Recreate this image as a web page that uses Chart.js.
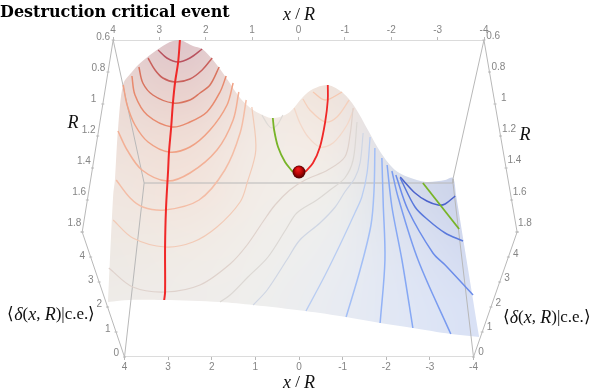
<!DOCTYPE html>
<html>
<head>
<meta charset="utf-8">
<title>Destruction critical event</title>
<script src="https://cdn.jsdelivr.net/npm/chart.js@4"></script>
<style>
  html, body { margin: 0; padding: 0; background: #fff; }
  #wrap { position: relative; width: 598px; height: 389px; }
</style>
</head>
<body>
<div id="wrap"><canvas id="chart"></canvas></div>
<script>
// All curves are read off the picture, in view-plane units:
// first value on the front x/R axis, second is height above the front edge.
var xTicks = [4, 3, 2, 1, 0, -1, -2, -3, -4];
var rTicks = ["0.6", "0.8", "1", "1.2", "1.4", "1.6", "1.8"];
var deltaTicks = ["0", "1", "2", "3", "4"];

// surface outline
var surfaceUpper = [[4.38,55],[4.26,162],[4.22,177],[4.15,227],[4.03,273],[3.83,285],[3.64,294],[3.26,307],[2.96,315],[2.73,317],[2.43,311],[2.22,308],[1.97,297],[1.65,278],[1.35,259],[1.05,247],[0.73,240],[0.62,239],[0.44,240],[0.21,245],[-0.09,260],[-0.32,268],[-0.66,272],[-1.01,264],[-1.28,250],[-1.58,227],[-1.88,204],[-2.20,187],[-2.50,180],[-2.91,175],[-3.35,177],[-3.53,179],[-3.60,162],[-4.13,20]];
var surfaceLower = [[4.38,55],[3.87,57],[3.12,57],[1.81,55],[1.05,52],[-0.14,46],[-1.08,40],[-1.86,34],[-2.61,29],[-3.48,23],[-4.13,20]];

// box edges
var boxTop = [[4.26,317],[-4.24,317]];
var boxBottom = [[4,0],[-4,0]];
var boxLeft = [[4.26,317],[4.97,125],[4,0]];
var boxRight = [[-4.24,317],[-5.0,125],[-4,0]];
var boxBackLeft = [[4.26,317],[3.55,174],[4,0]];
var boxBackRight = [[-4.24,317],[-3.53,178],[-3.53,174],[-4,0]];
var boxBack = [[3.55,174],[-3.53,174]];

// level curves, left hill
var c1 = [[3.23,307],[3.03,299],[2.77,295],[2.50,299],[2.22,308]];
var c2 = [[3.46,299],[3.30,287],[3.12,279],[2.84,275],[2.50,278],[2.22,287],[1.99,299]];
var c3 = [[3.67,290],[3.58,274],[3.35,262],[2.89,254],[2.50,257],[2.27,264],[2.04,272],[1.83,290]];
var c4 = [[3.83,281],[3.76,262],[3.48,242],[2.91,230],[2.50,235],[2.11,245],[1.81,265],[1.67,281]];
var c5 = [[4.03,272],[3.94,252],[3.76,232],[3.46,215],[2.98,205],[2.50,210],[2.04,227],[1.65,252],[1.51,274]];
var c6 = [[4.15,226],[3.94,207],[3.60,187],[3.03,176],[2.50,184],[1.88,207],[1.51,237],[1.38,265]];
var c7 = [[4.19,177],[3.87,159],[3.58,150],[3.07,147],[2.29,157],[1.70,187],[1.35,224],[1.21,257]];
var c8 = [[4.26,137],[3.81,119],[3.07,110],[2.43,115],[1.88,130],[1.35,155],[1.19,174],[0.99,207],[1.08,250]];
var c9 = [[4.36,89],[3.81,70],[3.07,65],[2.27,72],[1.58,93],[1.19,112],[0.83,135],[0.55,152],[0.21,167],[-0.14,177],[-0.66,187],[-1.05,200],[-1.17,222],[-1.24,249]];
var c10 = [[1.81,55],[1.58,62],[1.17,80],[0.71,100],[0.28,129],[0.05,144],[-0.41,157],[-0.71,167],[-1.05,179],[-1.24,197],[-1.33,235]];
var c11 = [[1.05,52],[0.73,67],[0.28,97],[-0.02,117],[-0.48,134],[-0.83,150],[-1.05,165],[-1.28,179],[-1.40,194],[-1.47,224]];
var c12 = [[-0.16,46],[-0.60,82],[-0.96,114],[-1.28,144],[-1.44,160],[-1.56,184],[-1.63,220]];
// right side
var l1 = [[-1.74,209],[-1.72,167],[-1.65,132],[-1.40,87],[-1.08,40]];
var l2 = [[-1.90,199],[-1.93,154],[-1.97,97],[-1.86,34]];
var l3 = [[-2.02,192],[-2.13,150],[-2.36,97],[-2.61,29]];
var l4 = [[-2.13,186],[-2.27,160],[-2.73,97],[-3.48,23]];
var l5 = [[-2.22,182],[-2.50,147],[-3.07,104],[-3.35,92],[-3.99,62]];
var l6 = [[-2.32,179],[-2.66,150],[-2.96,137],[-3.35,124],[-3.76,116]];
var l7 = [[-2.32,180],[-2.66,164],[-2.93,156],[-3.19,152],[-3.35,153],[-3.58,161]];
// central hill
var h1 = [[-0.32,265],[-0.60,257],[-0.99,265]];
var h2 = [[-0.09,258],[-0.25,247],[-0.60,235],[-0.87,240],[-1.15,257]];
var h3 = [[0.11,249],[-0.02,234],[-0.21,220],[-0.48,210],[-0.78,214],[-1.10,232],[-1.26,249]];
var saddle = [[0.85,242],[0.71,232],[0.62,229],[0.50,232],[0.37,242]];

// highlighted paths
var redRidgeLeft = [[2.73,317],[2.77,295],[2.84,275],[2.89,254],[2.93,230],[2.98,205],[3.00,187],[3.05,147],[3.07,110],[3.07,65],[3.09,57]];
var redRidgeCentre = [[-0.66,272],[-0.66,257],[-0.60,235],[-0.48,210],[-0.32,194],[-0.14,185]];
var greenSaddle = [[0.60,239],[0.57,227],[0.48,210],[0.32,195],[0.14,185]];
var greenRight = [[-2.84,174],[-3.67,128]];
var ball = [[0,185]];

// surface tint samples, left to right and top to bottom
var surfaceTones = [
  ["#e4d0d2","#e2cdd0","#dcc2c9","#e8dcdc","#ecdfda","#e0e0ea","#c8cfe8","#c8cfe8"],
  ["#e9d8d4","#e9d8d4","#e7cdcb","#f0e6e0","#efe2da","#dcdfea","#c8cfe8","#c8cfe8"],
  ["#eee0da","#eee0da","#f0ddd5","#f2ebe6","#f2e9e3","#d5dbea","#c5cde8","#c5cde8"],
  ["#f0e6e0","#f0e6e0","#f3e4dc","#f2ede8","#efeeeb","#d5dcec","#c9d0ea","#c9d0ea"],
  ["#eee9e4","#eee9e4","#f1ebe5","#f0eeeb","#ebedf0","#dde3f2","#d0d8f0","#d0d8f0"],
  ["#eeebe8","#eeebe8","#efecea","#eeeeed","#e8ebf2","#dfe6f5","#d8e0f5","#d8e0f5"],
  ["#eeebe8","#eeebe8","#efecea","#eeeeed","#e8ebf2","#dfe6f5","#d8e0f5","#d8e0f5"]
];

var frameColor = "#b8b8b8";
var tickColor = "#858585";

function toPoints(list) {
  return list.map(function (p) { return { x: p[0], y: p[1] }; });
}

// smooth tint made by scaling up the little sample grid
function surfacePattern() {
  var small = document.createElement("canvas");
  small.width = surfaceTones[0].length;
  small.height = surfaceTones.length;
  var sctx = small.getContext("2d");
  surfaceTones.forEach(function (row, j) {
    row.forEach(function (tone, i) {
      sctx.fillStyle = tone;
      sctx.fillRect(i, j, 1, 1);
    });
  });
  var big = document.createElement("canvas");
  big.width = 598;
  big.height = 389;
  var bctx = big.getContext("2d");
  bctx.imageSmoothingEnabled = true;
  bctx.imageSmoothingQuality = "high";
  bctx.drawImage(small, 0, 0, 598, 389);
  return bctx.createPattern(big, "no-repeat");
}

function curve(list, color, width, order) {
  return {
    data: toPoints(list),
    showLine: true,
    borderColor: color,
    borderWidth: width,
    tension: 0.33,
    pointRadius: 0,
    fill: false,
    order: order
  };
}

function frame(list) {
  var d = curve(list, frameColor, 1, 5);
  d.tension = 0;
  return d;
}

var datasets = [
  {
    data: toPoints(surfaceUpper),
    showLine: true,
    borderWidth: 0,
    borderColor: "rgba(0,0,0,0)",
    backgroundColor: surfacePattern(),
    pointRadius: 0,
    tension: 0.3,
    fill: "+1",
    order: 10
  },
  {
    data: toPoints(surfaceLower),
    showLine: true,
    borderWidth: 0,
    borderColor: "rgba(0,0,0,0)",
    pointRadius: 0,
    tension: 0.3,
    fill: false,
    order: 10
  },
  frame(boxTop), frame(boxBottom), frame(boxLeft), frame(boxRight),
  frame(boxBackLeft), frame(boxBackRight), frame(boxBack),
  curve(c1, "#b9525f", 1.5, 3),
  curve(c2, "#c9605c", 1.5, 3),
  curve(c3, "#d9745f", 1.5, 3),
  curve(c4, "#e88a6e", 1.5, 3),
  curve(c5, "#f0a184", 1.5, 3),
  curve(c6, "#f3b096", 1.5, 3),
  curve(c7, "#f4bda6", 1.5, 3),
  curve(c8, "#f2cab6", 1.2, 3),
  curve(c9, "#dfd2cc", 1.2, 3),
  curve(c10, "#dcd8d4", 1.2, 3),
  curve(c11, "#cfd6e4", 1.2, 3),
  curve(c12, "#b9cdf2", 1.3, 3),
  curve(l1, "#a3bff6", 1.5, 3),
  curve(l2, "#92b2f6", 1.5, 3),
  curve(l3, "#86a8f4", 1.5, 3),
  curve(l4, "#7a9cf0", 1.5, 3),
  curve(l5, "#6b8cea", 1.5, 3),
  curve(l6, "#5a79dc", 1.5, 3),
  curve(l7, "#4c63cc", 1.5, 3),
  curve(h1, "#f6c8b0", 1.3, 3),
  curve(h2, "#f5d0bc", 1.3, 3),
  curve(h3, "#f3d8c9", 1.3, 3),
  curve(saddle, "#dedad6", 1.2, 3),
  curve(redRidgeLeft, "#f02828", 2, 2),
  curve(redRidgeCentre, "#f02828", 1.8, 2),
  curve(greenSaddle, "#78b428", 1.8, 2),
  curve(greenRight, "#78b428", 1.8, 2),
  {
    data: toPoints(ball),
    pointRadius: 6.5,
    pointBorderWidth: 0,
    pointBackgroundColor: function (ctx) {
      var px = ctx.chart.scales.x.getPixelForValue(ball[0][0]);
      var py = ctx.chart.scales.y.getPixelForValue(ball[0][1]);
      // scales have no size yet during the first option pass
      if (!isFinite(px) || !isFinite(py)) return "#c80808";
      var g = ctx.chart.ctx.createRadialGradient(px - 1, py - 3, 1, px, py, 6.5);
      g.addColorStop(0, "#e81818");
      g.addColorStop(0.5, "#b80404");
      g.addColorStop(1, "#4a0000");
      return g;
    },
    order: 0
  }
];

// labels along the slanted edges, each row: texts, first and last anchor
var slantedLabels = [
  { texts: rTicks, from: [4.49, 320], to: [5.15, 134] },
  { texts: rTicks, from: [-4.45, 321], to: [-5.18, 134] },
  { texts: deltaTicks, from: [4.19, 4], to: [4.97, 101] },
  { texts: deltaTicks, from: [-4.17, 5], to: [-4.97, 103] }
];
var slantedTicks = [
  { count: 6, from: boxLeft[0], to: boxLeft[1] },
  { count: 6, from: boxRight[0], to: boxRight[1] },
  { count: 5, from: boxLeft[2], to: boxLeft[1] },
  { count: 5, from: boxRight[2], to: boxRight[1] }
];

var serif = '"Liberation Serif", serif';
var it = "italic 18px " + serif;
var rm = "17px " + serif;
var deltaLabel = [["\u27E8", rm], ["\u03B4", it], ["(", rm], ["x", it], [", ", rm], ["R", it], [")|c.e.", rm], ["\u27E9", rm]];
var xrLabel = [["x", it], [" / ", rm], ["R", it]];
var rLabel = [["R", it]];
var mathLabels = [
  { runs: xrLabel, at: [0, 342] },
  { runs: xrLabel, at: [0, -26] },
  { runs: rLabel, at: [5.18, 234] },
  { runs: rLabel, at: [-5.18, 222] },
  { runs: deltaLabel, at: [5.68, 42] },
  { runs: deltaLabel, at: [-5.68, 39] }
];

var edgeLabels = {
  id: "edgeLabels",
  afterDraw: function (chart) {
    var c = chart.ctx;
    var sx = chart.scales.x;
    var sy = chart.scales.y;
    c.save();
    c.textBaseline = "middle";

    // small ticks on the slanted edges
    c.strokeStyle = frameColor;
    c.lineWidth = 1;
    slantedTicks.forEach(function (t) {
      for (var i = 0; i <= t.count; i++) {
        var f = i / t.count;
        var px = sx.getPixelForValue(t.from[0] + (t.to[0] - t.from[0]) * f);
        var py = sy.getPixelForValue(t.from[1] + (t.to[1] - t.from[1]) * f);
        c.beginPath();
        c.moveTo(px - 1.5, py);
        c.lineTo(px + 1.5, py);
        c.stroke();
      }
    });

    c.fillStyle = tickColor;
    c.font = '10px "Liberation Sans", sans-serif';
    c.textAlign = "center";
    slantedLabels.forEach(function (row) {
      var n = row.texts.length - 1;
      row.texts.forEach(function (text, i) {
        var u = row.from[0] + (row.to[0] - row.from[0]) * i / n;
        var v = row.from[1] + (row.to[1] - row.from[1]) * i / n;
        c.fillText(text, sx.getPixelForValue(u), sy.getPixelForValue(v));
      });
    });

    c.fillStyle = "#111";
    c.textAlign = "left";
    mathLabels.forEach(function (label) {
      var width = 0;
      label.runs.forEach(function (r) {
        c.font = r[1];
        width += c.measureText(r[0]).width;
      });
      var px = sx.getPixelForValue(label.at[0]) - width / 2;
      var py = sy.getPixelForValue(label.at[1]);
      label.runs.forEach(function (r) {
        c.font = r[1];
        c.fillText(r[0], px, py);
        px += c.measureText(r[0]).width;
      });
    });
    c.restore();
  }
};

function xAxis(position, min, max, height) {
  return {
    type: "linear",
    position: position,
    min: min,
    max: max,
    reverse: true,
    afterBuildTicks: function (axis) {
      axis.ticks = xTicks.map(function (v) { return { value: v }; });
    },
    afterFit: function (axis) {
      axis.height = height;
      axis.paddingLeft = 0;
      axis.paddingRight = 0;
    },
    border: { display: false },
    grid: { drawOnChartArea: false, drawTicks: true, tickLength: 3, color: frameColor },
    ticks: {
      autoSkip: false,
      maxRotation: 0,
      padding: 1,
      color: tickColor,
      font: { family: '"Liberation Sans", sans-serif', size: 10 }
    }
  };
}

new Chart(document.getElementById("chart"), {
  type: "scatter",
  data: { datasets: datasets },
  plugins: [edgeLabels],
  options: {
    responsive: true,
    maintainAspectRatio: false,
    animation: false,
    layout: { padding: 0, autoPadding: false },
    plugins: {
      legend: { display: false },
      tooltip: { enabled: false },
      title: {
        display: true,
        text: "Destruction critical event",
        align: "start",
        color: "#000",
        padding: { top: 2, bottom: 0 },
        font: { family: '"DejaVu Serif", serif', size: 16, weight: "bold", lineHeight: 1.375 }
      }
    },
    scales: {
      x: xAxis("bottom", -6.854, 6.854, 32),
      xTop: xAxis("top", -6.458, 6.437, 16),
      y: { type: "linear", display: false, min: 0, max: 317 }
    }
  }
});
</script>
</body>
</html>
